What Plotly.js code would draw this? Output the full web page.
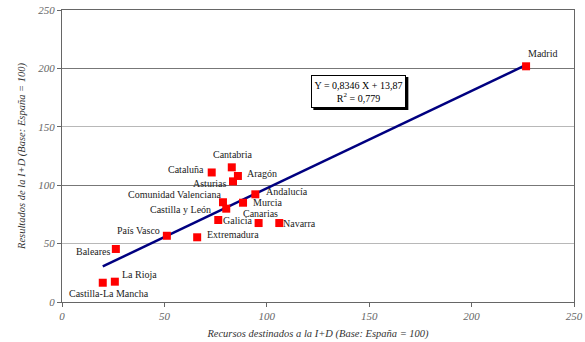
<!DOCTYPE html>
<html>
<head>
<meta charset="utf-8">
<script src="https://cdn.plot.ly/plotly-3.0.1.min.js"></script>
<style>
  html, body { margin: 0; padding: 0; background: #fff; }
  #chart { width: 585px; height: 342px; }
</style>
</head>
<body>
<div id="chart"></div>
<script>
// Comunidades autónomas: recursos vs. resultados de la I+D (base España = 100)
const regions = [
  "Madrid", "Cataluña", "Cantabria", "Aragón", "Asturias", "Andalucía",
  "Comunidad Valenciana", "Murcia", "Castilla y León", "Galicia", "Canarias",
  "Navarra", "País Vasco", "Extremadura", "Baleares", "La Rioja", "Castilla-La Mancha"
];
const recursos = [
  226.6, 73.1, 82.9, 85.9, 83.5, 94.4,
  78.6, 88.4, 80.2, 76.3, 96.0,
  106.1, 51.2, 66.0, 26.3, 25.8, 19.9
];
const resultados = [
  201.8, 110.9, 115.3, 107.9, 103.3, 92.2,
  85.4, 85.0, 79.9, 70.2, 67.6,
  67.6, 56.7, 55.4, 45.4, 17.4, 16.5
];

// Regression fitted to the points above
const slope = 0.8346;
const intercept = 13.87;
const r2 = 0.779;

// Label placement for each region: [xanchor, xshift px, yshift px]
const labelPlacement = {
  "Madrid": ["center", 16, 13],
  "Cataluña": ["right", -6, 3],
  "Cantabria": ["center", 1, 13],
  "Aragón": ["left", 7, 2],
  "Asturias": ["right", -5, -2],
  "Andalucía": ["left", 9, 3],
  "Comunidad Valenciana": ["right", 0, 8],
  "Murcia": ["left", 8, 0],
  "Castilla y León": ["right", -13, -1],
  "Canarias": ["left", -18, 10],
  "Galicia": ["left", 3, 0],
  "Navarra": ["left", 2, 0],
  "País Vasco": ["right", -5, 5],
  "Extremadura": ["left", 8, 3],
  "Baleares": ["right", -3, -3],
  "La Rioja": ["left", 5, 7],
  "Castilla-La Mancha": ["center", 6, -11]
};

const fmt = v => v.toString().replace(".", ",");

const xMin = Math.min(...recursos);
const xMax = Math.max(...recursos);
const lineX = [xMin, xMax];
const lineY = lineX.map(x => slope * x + intercept);

const serif = "Liberation Serif";

const traces = [
  {
    // carrier for the darker gridlines every 100
    x: [0], y: [0], yaxis: "y2", mode: "markers", type: "scatter",
    marker: { opacity: 0 }, hoverinfo: "skip", showlegend: false
  },
  {
    x: lineX, y: lineY, mode: "lines", type: "scatter",
    line: { color: "#000080", width: 2.5 },
    hoverinfo: "skip", showlegend: false
  },
  {
    x: recursos, y: resultados, mode: "markers", type: "scatter",
    marker: { symbol: "square", size: 8, color: "#ff0000" },
    text: regions, showlegend: false
  }
];

const annotations = regions.map((name, i) => {
  const p = labelPlacement[name];
  return {
    x: recursos[i], y: resultados[i], xref: "x", yref: "y",
    text: name, showarrow: false,
    xanchor: p[0], yanchor: "middle", xshift: p[1], yshift: p[2],
    font: { family: serif, size: 10, color: "#222" }
  };
});

// equation box, anchored in data space
const eqX = 144.7, eqY = 180.6;
const eqText = "Y = " + fmt(slope) + " X + " + fmt(intercept) +
  "<br>R<sup>2</sup> = " + fmt(r2);

annotations.push({
  x: eqX, y: eqY, xref: "x", yref: "y", text: eqText, showarrow: false,
  width: 93, height: 31, bgcolor: "#fff", bordercolor: "#000", borderwidth: 1,
  borderpad: 0, align: "center", valign: "middle",
  font: { family: serif, size: 10, color: "#000" }
});

// drop shadow behind the equation box
const shapes = [{
  type: "rect", layer: "above",
  xref: "x", yref: "y", xsizemode: "pixel", ysizemode: "pixel",
  xanchor: eqX, yanchor: eqY,
  x0: -45, x1: 50, y0: -19, y1: 14,
  fillcolor: "#000", line: { width: 0 }
}];

const tickFont = { family: serif, size: 11, color: "#666", style: "italic" };
const titleFont = { family: serif, size: 10.5, color: "#333", style: "italic" };

const layout = {
  width: 585, height: 342,
  margin: { l: 62, r: 11, t: 10, b: 40 },
  paper_bgcolor: "#fff", plot_bgcolor: "#fff",
  showlegend: false,
  font: { family: serif },
  xaxis: {
    range: [0, 250], dtick: 50, tick0: 0,
    showgrid: false, zeroline: false,
    showline: true, linecolor: "#666", linewidth: 1, mirror: true,
    ticks: "outside", ticklen: 4, tickcolor: "#666",
    tickfont: tickFont,
    title: { text: "Recursos destinados a la I+D (Base: España = 100)", font: titleFont, standoff: 8 }
  },
  yaxis: {
    range: [0, 250], dtick: 50, tick0: 0,
    showgrid: true, gridcolor: "#b8b8b8", gridwidth: 1,
    zeroline: false,
    showline: true, linecolor: "#666", linewidth: 1, mirror: true,
    ticks: "outside", ticklen: 4, tickcolor: "#666",
    tickfont: tickFont,
    title: { text: "Resultados de la I+D (Base: España = 100)", font: titleFont, standoff: 10 }
  },
  yaxis2: {
    overlaying: "y", range: [0, 250], dtick: 100, tick0: 0,
    showgrid: true, gridcolor: "#777", gridwidth: 1,
    zeroline: false, showline: false, showticklabels: false, ticks: ""
  },
  shapes: shapes,
  annotations: annotations
};

Plotly.newPlot("chart", traces, layout, { displayModeBar: false, staticPlot: true });
</script>
</body>
</html>
